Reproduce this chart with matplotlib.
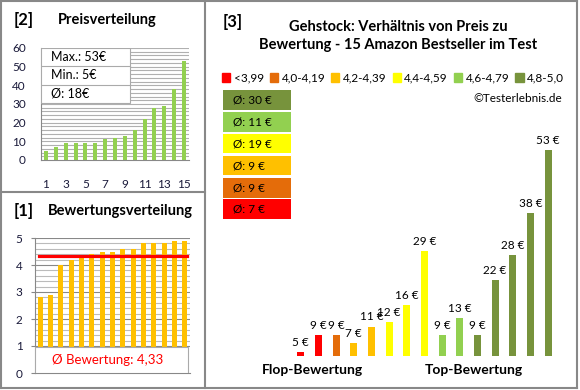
import matplotlib
matplotlib.use('Agg')
import matplotlib.pyplot as plt
from matplotlib.patches import Rectangle
from matplotlib.lines import Line2D

plt.rcParams['font.family'] = ['Lato', 'DejaVu Sans']

# data
price_sorted = [5, 7, 9, 9, 9, 9, 11, 12, 13, 16, 22, 28, 29, 38, 53]
price_stats = ['Max.: 53€', 'Min.: 5€', 'Ø: 18€']
ratings_sorted = [2.8, 2.9, 4.0, 4.2, 4.3, 4.4, 4.5, 4.5, 4.6, 4.6, 4.8, 4.8, 4.8, 4.9, 4.9]
rating_mean = 4.33
prices_by_rating = [5, 9, 9, 7, 11, 12, 16, 29, 9, 13, 9, 22, 28, 38, 53]
rating_class = [0, 0, 1, 2, 2, 3, 3, 3, 4, 4, 5, 5, 5, 5, 5]
class_labels = ['<3,99', '4,0-4,19', '4,2-4,39', '4,4-4,59', '4,6-4,79', '4,8-5,0']
class_colors = ['#FF0000', '#E46C0A', '#FFC000', '#FFFF00', '#92D050', '#77933C']
class_means = [7, 9, 9, 19, 11, 30]

W, H = 580, 390
fig = plt.figure(figsize=(W / 100, H / 100), dpi=100)


def box(l, t, r, b):
    return [l / W, 1 - b / H, (r - l) / W, (b - t) / H]


def line(x0, y0, x1, y1):
    fig.add_artist(Line2D([x0 / W, x1 / W], [1 - y0 / H, 1 - y1 / H],
                          transform=fig.transFigure, color='#888888', lw=1.5))


# panel borders
line(1, 1, 577, 1)
line(1, 388, 577, 388)
line(1, 1, 1, 388)
line(577, 1, 577, 388)
line(205, 1, 205, 388)
line(1, 192, 205, 192)

tick_col = '#1a1a3a'

# [2] Preisverteilung
ax1 = fig.add_axes(box(41, 48, 189, 160))
x1 = list(range(1, 16))
for y in range(2, 61, 2):
    ax1.axhline(y, color='#b0b0b0', lw=0.8, zorder=0)
ax1.bar(x1, price_sorted, width=0.4, color='#92D050', zorder=2)
ax1.set_xlim(0.5, 15.5)
ax1.set_ylim(0, 60)
ax1.set_yticks(range(0, 61, 10))
ax1.set_xticks(range(1, 16, 2))
for s in ['top', 'right']:
    ax1.spines[s].set_visible(False)
for s in ['left', 'bottom']:
    ax1.spines[s].set_color('#888888')
ax1.tick_params(axis='x', length=0, pad=14, labelsize=8.5, colors=tick_col)
ax1.tick_params(axis='y', length=0, pad=11, labelsize=8.5, colors=tick_col)
ax1.add_patch(Rectangle((0.5, 30.5), 9.0, 29.5, facecolor='white',
                        edgecolor='#aaaaaa', lw=0.8, zorder=3))
for i, t in enumerate(price_stats):
    yy = 60 - 9.8 * (i + 1)
    if i < 2:
        ax1.plot([0.5, 9.5], [yy, yy], color='#aaaaaa', lw=0.8, zorder=4)
    ax1.text(1.5, yy + 4.9, t, fontsize=9, va='center', ha='left', zorder=5)
fig.text(14 / W, 1 - 20 / H, '[2]', fontsize=12, fontweight='bold', va='center')
fig.text(58 / W, 1 - 20 / H, 'Preisverteilung', fontsize=10.5, fontweight='bold', va='center')

# [1] Bewertungsverteilung
ax2 = fig.add_axes(box(35, 238, 190, 373))
x2 = list(range(1, 16))
for k in range(5, 26):
    y = k / 5
    ax2.axhline(y, color='#888888' if k % 5 == 0 else '#bbbbbb', lw=0.8, zorder=0)
ax2.bar(x2, ratings_sorted, width=0.5, color='#FFC000', zorder=2)
ax2.plot([0.9, 15.2], [rating_mean, rating_mean], color='#FF0000', lw=2.3, zorder=3)
ax2.set_xlim(0.5, 15.5)
ax2.set_ylim(0, 5)
ax2.set_yticks(range(0, 6))
ax2.set_xticks([])
for s in ['top', 'right']:
    ax2.spines[s].set_visible(False)
for s in ['left', 'bottom']:
    ax2.spines[s].set_color('#888888')
ax2.tick_params(axis='y', length=3, color='#888888', pad=6, labelsize=8.5, colors=tick_col)
ax2.add_patch(Rectangle((0.5, 0), 14.8, 0.98, facecolor='white',
                        edgecolor='#aaaaaa', lw=0.8, zorder=4))
ax2.text(7.5, 0.49, 'Ø Bewertung: ' + str(rating_mean).replace('.', ','),
         color='#FF0000', fontsize=9.5, ha='center', va='center', zorder=5)
fig.text(14 / W, 1 - 211 / H, '[1]', fontsize=12, fontweight='bold', va='center')
fig.text(48 / W, 1 - 211 / H, 'Bewertungsverteilung', fontsize=10.5, fontweight='bold', va='center')

# [3] Preis zu Bewertung
ax3 = fig.add_axes(box(292, 90, 557, 356))
x3 = list(range(len(prices_by_rating)))
cols = [class_colors[c] for c in rating_class]
bars = ax3.bar(x3, prices_by_rating, width=0.4, color=cols)
ax3.bar_label(bars, labels=[f'{p} €' for p in prices_by_rating], padding=3, fontsize=8.5)
ax3.set_xlim(-0.5, 14.5)
ax3.set_ylim(4, 67.2)
ax3.axis('off')

fig.text(223 / W, 1 - 22 / H, '[3]', fontsize=12, fontweight='bold', va='center')
fig.text(398 / W, 1 - 36 / H, 'Gehstock: Verhältnis von Preis zu\nBewertung - 15 Amazon Bestseller im Test',
         fontsize=10.5, fontweight='bold', ha='center', va='center', linespacing=1.4)
handles = [Rectangle((0, 0), 1, 1, color=c) for c in class_colors]
fig.legend(handles, class_labels, loc='center', bbox_to_anchor=(393 / W, 1 - 78 / H),
           ncol=6, frameon=False, fontsize=8.5, handlelength=0.7, handleheight=0.7,
           handletextpad=0.3, columnspacing=0.5, borderpad=0)
fig.text(562 / W, 1 - 98 / H, '©Testerlebnis.de', fontsize=8.5, ha='right', va='center')

box_tops = [90, 112, 134, 156, 178, 199]
for top, c, m in zip(box_tops, class_colors[::-1], class_means[::-1]):
    fig.add_artist(Rectangle((223 / W, 1 - (top + 19.5) / H), 68 / W, 19.5 / H,
                             transform=fig.transFigure, facecolor=c, edgecolor='none'))
    fig.text(233 / W, 1 - (top + 10) / H, f'Ø: {m} €', fontsize=8.5, va='center')

fig.text(312 / W, 1 - 370 / H, 'Flop-Bewertung', fontsize=10, fontweight='bold', ha='center', va='center')
fig.text(474 / W, 1 - 370 / H, 'Top-Bewertung', fontsize=10, fontweight='bold', ha='center', va='center')

fig.savefig('out.png', dpi=100)
